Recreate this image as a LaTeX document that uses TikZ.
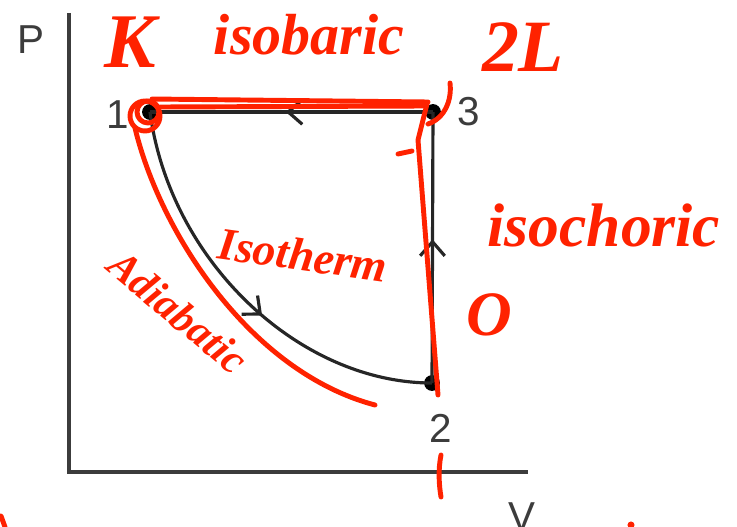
\documentclass[tikz,border=0pt]{standalone}
\usepackage{fontspec}
\setmainfont{Liberation Sans}
\newfontfamily\handfont{Liberation Serif}
\usepackage{tikz}
\usetikzlibrary{arrows.meta,positioning,decorations.markings}
\usepackage{xcolor}
\definecolor{ink}{RGB}{255,34,0}
\definecolor{axisgray}{RGB}{60,60,60}

\begin{document}
\begin{tikzpicture}[
    x=0.02cm, y=-0.02cm,
    dot/.style={circle, fill=black, inner sep=0pt, minimum size=9pt},
    lbl/.style={text=axisgray, inner sep=0pt,
                font=\fontsize{23}{23}\selectfont},
    axis/.style={draw=axisgray, line width=1.8pt},
    cyc/.style={draw=black!85, line width=1.8pt},
    midarr/.style={postaction={decorate},
                   decoration={markings, mark=at position #1 with
                     {\arrow{Straight Barb[length=8pt,width=14pt,line width=1.8pt]}}}},
    pen/.style={draw=ink, line width=2.8pt, line cap=round, line join=round},
    note/.style={text=ink, inner sep=0pt}
  ]
  \useasboundingbox (0,0) rectangle (737,527);

  %% --- Axes ---
  \coordinate (ytop)   at (69,13);
  \coordinate (origin) at (69,472);
  \coordinate (xend)   at (528,472);
  \draw[axis] (ytop) -- (origin) -- (xend);
  \node[lbl] (plab) at (31,40)  {P};
  \node[lbl] (vlab) at (522,517) {V};

  %% --- States ---
  \node[dot] (p1) at (150,112) {};
  \node[dot] (p3) at (433,112) {};
  \node[dot] (p2) at (432,383) {};
  \node[lbl] (l1) at (118,115) {1};
  \node[lbl] (l3) at (469,112) {3};
  \node[lbl] (l2) at (441,428) {2};

  %% --- Cycle ---
  \draw[cyc, midarr=0.56] (p1.center) .. controls (170,262) and (300,383) .. (p2.center);
  \draw[cyc, midarr=0.53] (p2.center) -- (p3.center);
  \draw[cyc, midarr=0.52] (p3.center) -- (p1.center);

  %% --- Red marks ---
  % circle round state 1
  \draw[pen] (145,116) circle[radius=0.3cm];
  \draw[pen] (148,112) circle[radius=0.22cm];
  % isobar traced twice
  \draw[pen] (152,99)  -- (428,102);
  \draw[pen] (160,107) -- (425,106);
  \draw[pen] (450,83) .. controls (452,100) and (445,118) .. (428,124);
  \draw[pen] (398,154) -- (412,151);
  % isochore traced
  \draw[pen] (427,104) -- (418,140) -- (438,395);
  % steeper curve from 1
  \draw[pen] (135,128) .. controls (160,232) and (250,372) .. (375,405);
  % tick on V axis
  \draw[pen] (441,455) .. controls (438,470) and (439,485) .. (441,497);
  \draw[pen] (1,516) -- (5,527);
  \fill[ink] (631,525) circle[radius=2pt];

  %% --- Red notes ---
  \node[note, font=\handfont\bfseries\itshape\fontsize{44}{44}\selectfont] (nk)  at (130,42)  {K};
  \node[note, font=\handfont\bfseries\itshape\fontsize{33}{33}\selectfont] (nib) at (309,35)  {isobaric};
  \node[note, font=\handfont\bfseries\itshape\fontsize{42}{42}\selectfont] (n2l) at (523,47)  {2L};
  \node[note, font=\handfont\bfseries\itshape\fontsize{26}{26}\selectfont, rotate=-8] (nit) at (303,255) {Isotherm};
  \node[note, font=\handfont\bfseries\itshape\fontsize{35}{35}\selectfont] (nic) at (604,225) {isochoric};
  \node[note, font=\handfont\bfseries\itshape\fontsize{36}{36}\selectfont] (no)  at (489,315) {O};
  \node[note, font=\handfont\bfseries\itshape\fontsize{24}{24}\selectfont, rotate=-40] (nad) at (178,312) {Adiabatic};
\end{tikzpicture}
\end{document}
